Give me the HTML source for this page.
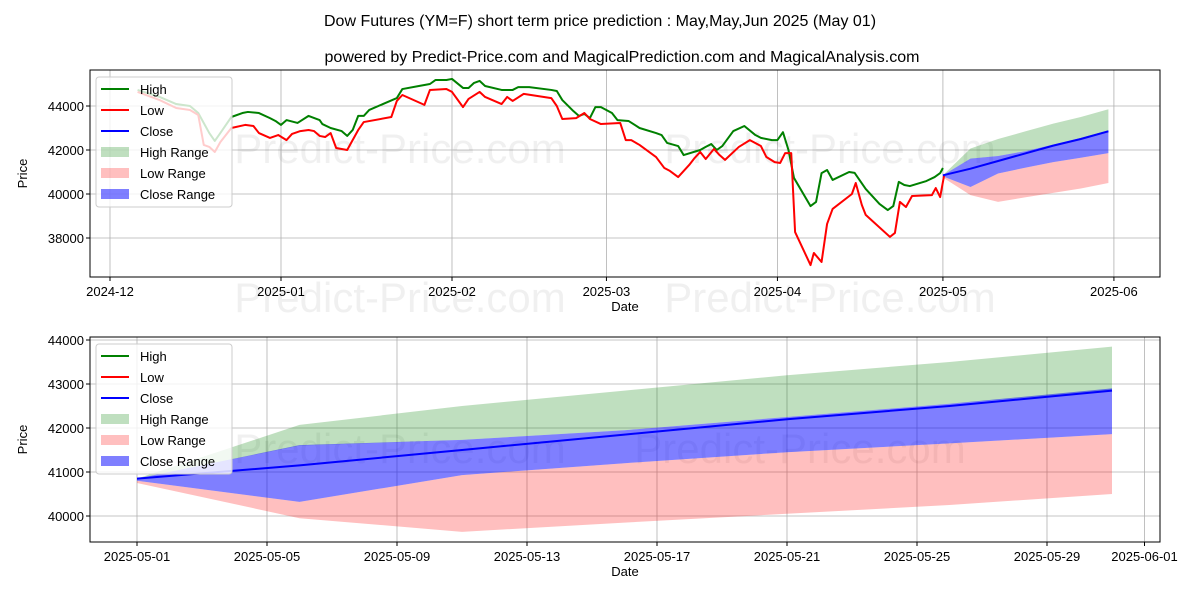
<!DOCTYPE html>
<html><head><meta charset="utf-8"><style>
body{margin:0;background:#fff;}
svg{display:block;font-family:"Liberation Sans","DejaVu Sans",sans-serif;}
</style></head><body>
<svg id="c" width="1200" height="600" viewBox="0 0 1200 600"></svg>
<script>
// historical data (days since 2024-12-01)
const highDays=[5,9,12,14.5,16,18,19,20,22,24,25,27,29,30,31,32,34,36,38,38.5,40,42,43,44,45,46,47,52,53,56,58,59,61,62,64,65,66,67,68,71,73,74,76,80,81,82,84,85,86,87,88,89,91,92,94,96,99,100,101,103,104,107,108,109,110,111,113,115,117,118,120,121,122,123,124,127,128,129,130,131,134,135,137,139.5,141,142,143,144,145,148,149.5,150.5,151];
const highVals=[44730,44410,44090,44000,43680,42770,42410,42770,43500,43680,43730,43680,43450,43320,43140,43360,43230,43550,43360,43180,43000,42860,42640,42910,43550,43550,43820,44360,44770,44910,45000,45180,45180,45230,44820,44820,45050,45140,44910,44730,44730,44860,44860,44730,44680,44270,43770,43550,43640,43450,43950,43950,43680,43360,43320,43000,42770,42680,42320,42180,41770,42000,42140,42270,42000,42180,42860,43090,42680,42550,42450,42450,42810,42000,40730,39450,39640,40950,41090,40640,41000,40960,40230,39550,39270,39450,40550,40410,40360,40590,40770,40950,41180];
const lowDays=[5,9,12,14.5,16,17,18,19,20,22,24.5,26,27,29,30.5,32,33,34.5,36,37,38,39,40,41,43,45,46,51,52,53,57,58,61,62,64,65,67,68,71,72,73,75,80,81,82,84.5,86,87,89,92.5,93.5,94.5,96,99,100.5,101.5,103,105,106,107,108,109.5,110.5,111.5,114,116,118,119,120.5,121.5,122.4,123.5,124.2,127,127.6,129,130,131,134.5,135.2,136.3,137,141.4,142.3,143.2,144.3,145.4,149,149.7,150.5,151.2];
const lowVals=[44640,44270,43910,43820,43590,42230,42140,41910,42360,43000,43140,43090,42770,42550,42680,42450,42730,42860,42910,42860,42640,42590,42770,42090,42000,42910,43270,43500,44230,44500,44050,44730,44770,44640,43950,44320,44640,44410,44090,44410,44230,44550,44360,44000,43410,43450,43680,43410,43180,43230,42450,42450,42230,41680,41180,41050,40770,41320,41640,41910,41590,42050,41770,41550,42140,42450,42180,41680,41450,41410,41860,41860,38270,36770,37320,36910,38640,39320,40000,40500,39500,39050,38050,38230,39640,39410,39910,39950,40270,39860,40820];
// forecast (days since 2025-05-01)
const fDays=[0,5,10,15,20,25,30];
const closeVals=[40850,41150,41500,41850,42200,42500,42850];
const highUpper=[40850,42070,42500,42850,43200,43500,43850];
const highLower=[40850,41600,41730,41950,42250,42550,42850];
const closeUpper=[40850,41610,41730,41950,42250,42550,42900];
const closeLower=[40800,40320,40930,41200,41450,41650,41860];
const lowUpper=[40800,40320,40930,41200,41450,41650,41860];
const lowLower=[40750,39950,39640,39850,40050,40250,40500];
const topYTicks=[38000,40000,42000,44000];
const topXTicks=[0,31,62,90,121,151,182];
const topXLabels=['2024-12','2025-01','2025-02','2025-03','2025-04','2025-05','2025-06'];
const botYTicks=[40000,41000,42000,43000,44000];
const botXTicks=[0,4,8,12,16,20,24,28,31];
const botXLabels=['2025-05-01','2025-05-05','2025-05-09','2025-05-13','2025-05-17','2025-05-21','2025-05-25','2025-05-29','2025-06-01'];

const svg=document.getElementById('c');const NS='http://www.w3.org/2000/svg';
function mk(tag,attrs,parent,text){const e=document.createElementNS(NS,tag);for(const k in attrs)e.setAttribute(k,attrs[k]);if(text!==undefined)e.textContent=text;(parent||svg).appendChild(e);return e;}

function panel(P){
  const g=mk('g',{});
  
  
  const X=d=>P.x0+(d-P.d0)*P.xs, Y=v=>P.y0-(v-P.v0)*P.ys;
  P.yt.forEach(v=>{const l=mk('line',{x1:90,x2:1160,y1:Y(v),y2:Y(v),stroke:'#b0b0b0','stroke-width':0.8},g);
    
    const t=mk('text',{x:84,y:Y(v)+5,'text-anchor':'end','font-size':13,fill:'#000'},g,String(v));
    
    mk('line',{x1:86,x2:90,y1:Y(v),y2:Y(v),stroke:'#000'},g);});
  P.xt.forEach((d,i)=>{const x=X(d);const l=mk('line',{x1:x,x2:x,y1:P.top,y2:P.bot,stroke:'#b0b0b0','stroke-width':0.8},g);
    
    mk('line',{x1:x,x2:x,y1:P.bot,y2:P.bot+4,stroke:'#000'},g);
    const t=mk('text',{x:x,y:P.bot+19,'text-anchor':'middle','font-size':13,fill:'#000'},g,P.xl[i]);
    });
  P.wm.forEach(w=>{const t=mk('text',{x:w[0],y:w[1],'font-size':42,fill:'#000','fill-opacity':0.06,'text-anchor':'middle'},g,'Predict-Price.com');
    });
  const cg=mk('g',{},g);mk('clipPath',{id:'cp'+P.name},g).appendChild(mk('rect',{x:90,y:P.top,width:1070,height:P.bot-P.top},g));
  cg.setAttribute('clip-path','url(#cp'+P.name+')');
  const fx=d=>X(P.fo+d);
  function band(up,lo,col,op,nm){let d='M'+fDays.map((t,i)=>fx(t)+','+Y(up[i])).join('L');
    for(let i=fDays.length-1;i>=0;i--)d+='L'+fx(fDays[i])+','+Y(lo[i]);
    const p=mk('path',{d:d+'Z',fill:col,'fill-opacity':op,stroke:'none'},cg);
    }
  band(highUpper,highLower,'#008000',0.25,'high-range');
  band(lowUpper,lowLower,'#ff0000',0.25,'low-range');
  band(closeUpper,closeLower,'#0000ff',0.5,'close-range');
  function line(ds,vs,col,nm,off){const p=mk('polyline',{points:ds.map((d,i)=>X(d+off)+','+Y(vs[i])).join(' '),fill:'none',stroke:col,'stroke-width':2,'stroke-linejoin':'round'},cg);
    }
  if(P.hist){line(highDays,highVals,'#008000','high-line',0);line(lowDays,lowVals,'#ff0000','low-line',0);}
  line(fDays,closeVals,'#0000ff','close-line',P.fo);
  mk('rect',{x:90,y:P.top,width:1070,height:P.bot-P.top,fill:'none',stroke:'#000','stroke-width':1},g);
  const xt=mk('text',{x:625,y:P.bot+34,'text-anchor':'middle','font-size':13},g,'Date');
  
  const cy=(P.top+P.bot)/2;
  const yt=mk('text',{x:27,y:cy,'text-anchor':'middle','font-size':13,transform:'rotate(-90 27 '+cy+')'},g,'Price');
  
  const lg=mk('g',{},g);
  const ly=P.top+7;
  mk('rect',{x:96,y:ly,width:136,height:130,rx:3,fill:'#fff','fill-opacity':0.8,stroke:'#ccc'},lg);
  const items=[['High','line','#008000',1],['Low','line','#ff0000',1],['Close','line','#0000ff',1],['High Range','box','#008000',0.25],['Low Range','box','#ff0000',0.25],['Close Range','box','#0000ff',0.5]];
  items.forEach((it,i)=>{const y=ly+12+i*21;
    if(it[1]=='line')mk('line',{x1:101,x2:129,y1:y,y2:y,stroke:it[2],'stroke-width':2},lg);
    else mk('rect',{x:101,y:y-5,width:28,height:10,fill:it[2],'fill-opacity':it[3]},lg);
    const t=mk('text',{x:140,y:y+5,'font-size':13},lg,it[0]);
    });
}
const tt=mk('text',{x:600,y:26,'text-anchor':'middle','font-size':16},svg,'Dow Futures (YM=F) short term price prediction : May,May,Jun 2025 (May 01)');

const st=mk('text',{x:622,y:62,'text-anchor':'middle','font-size':16},svg,'powered by Predict-Price.com and MagicalPrediction.com and MagicalAnalysis.com');

panel({name:'top-panel',top:70,bot:277,x0:110,d0:0,xs:5.516,y0:194,v0:40000,ys:0.022,yt:topYTicks,xt:topXTicks,xl:topXLabels,fo:151,hist:true,wm:[[400,163],[830,163],[400,312],[830,312]]});
panel({name:'bottom-panel',top:337,bot:542,x0:137,d0:0,xs:32.5,y0:516,v0:40000,ys:0.044,yt:botYTicks,xt:botXTicks,xl:botXLabels,fo:0,hist:false,wm:[[400,463],[800,463]]});
</script>
</body></html>
